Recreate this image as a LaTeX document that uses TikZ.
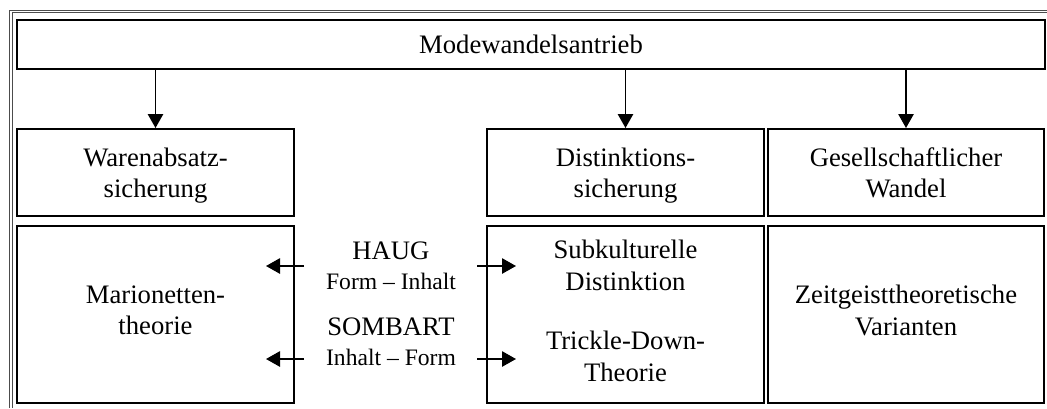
\documentclass[tikz,border=0pt]{standalone}
\usepackage{fontspec}
\setmainfont{Liberation Serif}
\usetikzlibrary{arrows.meta}
\begin{document}
\begin{tikzpicture}[x=0.75pt, y=-0.75pt,
  frame/.style={draw=black!70, line width=0.7pt},
  cell/.style={draw, line width=1.5pt, inner sep=0pt},
  txt/.style={inner sep=0pt, align=center, font=\fontsize{20}{23.5}\selectfont},
  note/.style={inner sep=0pt, align=center, font=\fontsize{17.7}{21}\selectfont},
  arr/.style={line width=1.3pt, -{Triangle[length=10.5pt, width=11.5pt]}},
]
\useasboundingbox (0,0) rectangle (1047,408);

% outer double frame
\draw[frame] (9,408) -- (9,10) -- (1047,10);
\draw[frame] (12,408) -- (12,12) -- (1047,12);

% header
\node[cell, minimum width=1028*0.75pt, minimum height=49*0.75pt] (top) at (531,44.5) {};
\node[txt] (topT) at (531,44.5) {Modewandelsantrieb};

% second row
\node[cell, minimum width=277*0.75pt, minimum height=87*0.75pt] (wa) at (155.5,172.5) {};
\node[cell, minimum width=277*0.75pt, minimum height=87*0.75pt] (di) at (625.5,172.5) {};
\node[cell, minimum width=276*0.75pt, minimum height=87*0.75pt] (ge) at (906,172.5) {};
\node[txt] (waT) at (155.5,175.8) {Warenabsatz-\\sicherung};
\node[txt] (diT) at (625.5,175.8) {Distinktions-\\sicherung};
\node[txt] (geT) at (906,173) {Gesellschaftlicher\\Wandel};

% third row
\node[cell, minimum width=277*0.75pt, minimum height=177*0.75pt] (ma) at (155.5,314.5) {};
\node[cell, minimum width=277*0.75pt, minimum height=177*0.75pt] (su) at (625.5,314.5) {};
\node[cell, minimum width=276*0.75pt, minimum height=177*0.75pt] (ze) at (906,314.5) {};
\node[txt] (maT) at (155.5,310.5) {Marionetten-\\theorie};
\node[txt] (suT) at (625.5,265.4) {Subkulturelle\\Distinktion};
\node[txt] (trT) at (625.5,356.4) {Trickle-Down-\\Theorie};
\node[txt] (zeT) at (906,310.5) {Zeitgeisttheoretische\\Varianten};

% labels between the lower boxes
\node[txt] (haug) at (391,251.2) {HAUG};
\node[note] (haugN) at (391,281) {Form – Inhalt};
\node[txt] (somb) at (391,327.2) {SOMBART};
\node[note] (sombN) at (391,357) {Inhalt – Form};

% arrows from the header
\draw[arr] (wa.north |- top.south) -- (wa.north);
\draw[arr] (di.north |- top.south) -- (di.north);
\draw[arr] (ge.north |- top.south) -- (ge.north);

% side arrows
\coordinate (l1s) at (304,266);
\coordinate (l1e) at (266,266);
\coordinate (l2s) at (304,359);
\coordinate (l2e) at (266,359);
\coordinate (r1s) at (477,266);
\coordinate (r1e) at (516,266);
\coordinate (r2s) at (477,359);
\coordinate (r2e) at (516,359);
\draw[arr] (l1s) -- (l1e);
\draw[arr] (l2s) -- (l2e);
\draw[arr] (r1s) -- (r1e);
\draw[arr] (r2s) -- (r2e);
\end{tikzpicture}
\end{document}
